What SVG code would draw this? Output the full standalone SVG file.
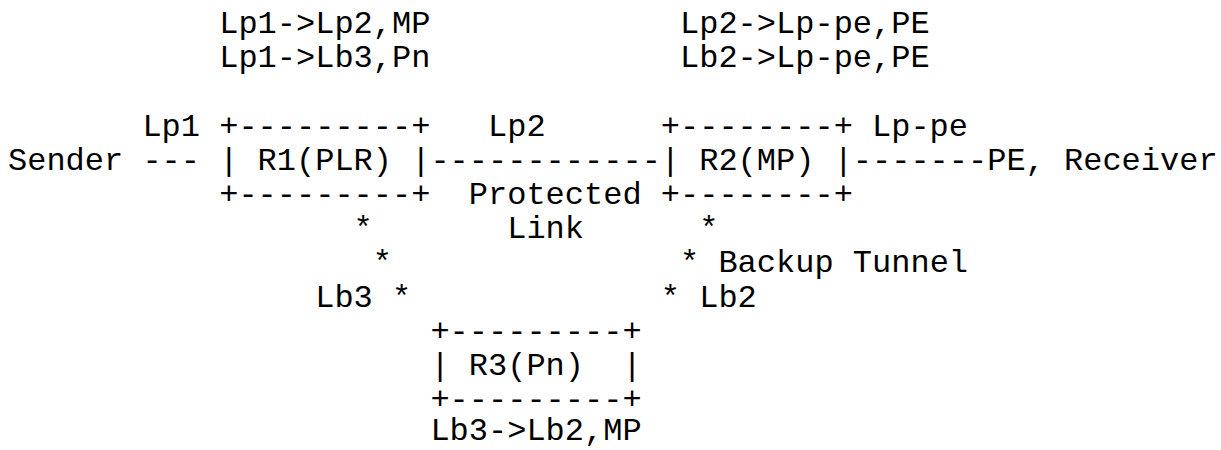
<svg xmlns="http://www.w3.org/2000/svg" width="1221" height="450" viewBox="0 0 1221 450">
<style>
text { font-family: "Liberation Mono", "Courier New", monospace; font-size: 32px; fill: #000; white-space: pre; }
</style>
<rect width="1221" height="450" fill="#fff"/>
<g id="labels">
<text x="219.2" y="33" xml:space="preserve">Lp1-&gt;Lp2,MP</text>
<text x="680" y="33" xml:space="preserve">Lp2-&gt;Lp-pe,PE</text>
<text x="219.2" y="67.2" xml:space="preserve">Lp1-&gt;Lb3,Pn</text>
<text x="680" y="67.2" xml:space="preserve">Lb2-&gt;Lp-pe,PE</text>
<text x="142.4" y="135.6" xml:space="preserve">Lp1</text>
<text x="488" y="135.6" xml:space="preserve">Lp2</text>
<text x="872" y="135.6" xml:space="preserve">Lp-pe</text>
<text x="468.8" y="204" xml:space="preserve">Protected</text>
<text x="507.2" y="238.2" xml:space="preserve">Link</text>
<text x="718.4" y="272.4" xml:space="preserve">Backup Tunnel</text>
<text x="315.2" y="306.6" xml:space="preserve">Lb3</text>
<text x="699.2" y="306.6" xml:space="preserve">Lb2</text>
<text x="430.4" y="440" xml:space="preserve">Lb3-&gt;Lb2,MP</text>
</g>
<g id="sender">
<text x="8" y="169.8" xml:space="preserve">Sender</text>
</g>
<g id="R1">
<text x="219.2" y="135.6" xml:space="preserve">+---------+</text>
<text x="219.2" y="169.8" xml:space="preserve">| R1(PLR) |</text>
<text x="219.2" y="204" xml:space="preserve">+---------+</text>
</g>
<g id="R2">
<text x="660.8" y="135.6" xml:space="preserve">+--------+</text>
<text x="660.8" y="169.8" xml:space="preserve">| R2(MP) |</text>
<text x="660.8" y="204" xml:space="preserve">+--------+</text>
</g>
<g id="R3">
<text x="430.4" y="340.8" xml:space="preserve">+---------+</text>
<text x="430.4" y="375" xml:space="preserve">| R3(Pn)  |</text>
<text x="430.4" y="409.2" xml:space="preserve">+---------+</text>
</g>
<g id="receiver">
<text x="987.2" y="169.8" xml:space="preserve">PE, Receiver</text>
</g>
<g id="connectors">
<text x="142.4" y="169.8" xml:space="preserve">---</text>
<text x="430.4" y="169.8" xml:space="preserve">------------</text>
<text x="852.8" y="169.8" xml:space="preserve">-------</text>
<text x="353.6" y="238.2" xml:space="preserve">*</text>
<text x="372.8" y="272.4" xml:space="preserve">*</text>
<text x="392" y="306.6" xml:space="preserve">*</text>
<text x="699.2" y="238.2" xml:space="preserve">*</text>
<text x="680" y="272.4" xml:space="preserve">*</text>
<text x="660.8" y="306.6" xml:space="preserve">*</text>
</g>
</svg>
